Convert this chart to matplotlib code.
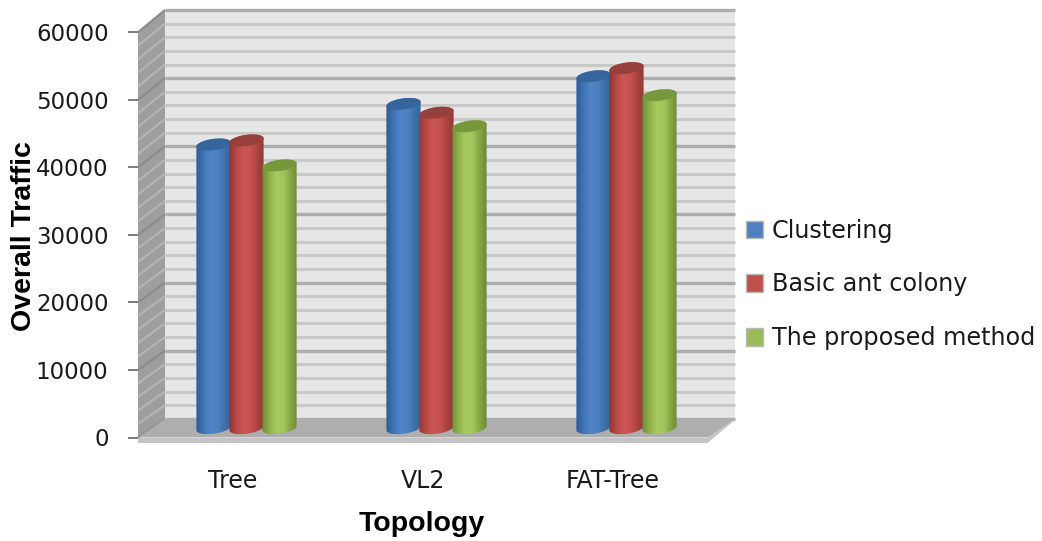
import numpy as np
import matplotlib.pyplot as plt
from matplotlib.colors import LinearSegmentedColormap
from matplotlib.patches import Polygon, Patch

topologies = ['Tree', 'VL2', 'FAT-Tree']
clustering = [42000, 48000, 52100]
ant_colony = [42600, 46700, 53300]
proposed = [38900, 44700, 49300]
series_names = ['Clustering', 'Basic ant colony', 'The proposed method']
y_ticks = [0, 10000, 20000, 30000, 40000, 50000, 60000]
minor_step = 2000

W, H = 1042, 541
left, right, bottom, top = 138, 708, 437.5, 32.3

fig = plt.figure(figsize=(W / 100, H / 100), dpi=100)
ax = fig.add_axes([left / W, 1 - bottom / H, (right - left) / W, (bottom - top) / H])

# size of one pixel in data units, used for the oblique depth
px_x = 3 / (right - left)
px_y = 60000 / (bottom - top)
depth_x = 27 * px_x
depth_lo = 18.7 * px_y
depth_hi = 22.3 * px_y


def back_y(v):
    return v + depth_lo + (depth_hi - depth_lo) * v / 60000


# walls and floor
ax.add_patch(Polygon([(depth_x, back_y(0)), (3 + depth_x, back_y(0)), (3 + depth_x, back_y(60000)),
                      (depth_x, back_y(60000))], fc='#e6e6e6', ec='none', zorder=1, clip_on=False))
ax.add_patch(Polygon([(0, 0), (depth_x, back_y(0)), (depth_x, back_y(60000)), (0, 60000)],
                     fc='#9e9e9e', ec='none', zorder=1, clip_on=False))

for v in range(0, 60001, minor_step):
    major = v % 10000 == 0
    ax.plot([depth_x, 3 + depth_x], [back_y(v), back_y(v)], color='#adadad' if major else '#c8c8c8',
            lw=2.4 if major else 2.2, zorder=2, clip_on=False, solid_capstyle='butt')
    ax.plot([0, depth_x], [v, back_y(v)], color='#8c8c8c' if major else '#b4b4b4',
            lw=1.6, zorder=2, clip_on=False, solid_capstyle='butt')

ax.add_patch(Polygon([(0, -5 * px_y), (3, -5 * px_y), (3, 0), (0, 0)], fc='#c4c4c4', ec='none', zorder=3, clip_on=False))
ax.add_patch(Polygon([(3, -5 * px_y), (3 + depth_x, back_y(0) - 1 * px_y), (3 + depth_x, back_y(0)), (3, 0)],
                     fc='#c4c4c4', ec='none', zorder=3, clip_on=False))
ax.add_patch(Polygon([(0, 0), (depth_x, back_y(0)), (3 + depth_x, back_y(0)), (3, 0)],
                     fc='#aeaeae', ec='none', zorder=3, clip_on=False))

# cylinders: shaded image clipped to the outline, then a darker cap
shades = {
    0: (['#2d5c92', '#3f74b2', '#4f85c8', '#4c82c2', '#3f70aa', '#33639a'], '#35659b'),
    1: (['#8c3431', '#b64845', '#cc5653', '#c6514e', '#aa4340', '#8f3835'], '#96403d'),
    2: (['#6c8c34', '#8fb04c', '#a8ca60', '#a4c65c', '#86a645', '#6a8a32'], '#76973c'),
}
radius = 16
shear = 6
cap_h = 6
t = np.linspace(0, 2 * np.pi, 121)
ex = (radius * np.cos(t) + shear * np.sin(t)) * px_x
ey = cap_h * np.sin(t) * px_y
i_min, i_max = np.argmin(ex), np.argmax(ex)
if i_min < i_max:
    upper = np.r_[i_max:len(t), 1:i_min + 1]
else:
    upper = np.arange(i_max, i_min + 1)
lower = np.r_[i_min:len(t), 1:i_max + 1]

for s, values in enumerate([clustering, ant_colony, proposed]):
    cmap = LinearSegmentedColormap.from_list('cyl%d' % s, shades[s][0])
    for c, v in enumerate(values):
        cx = c + 0.5 + depth_x / 2 + (s - 1) * 33 * px_x
        base = back_y(0) / 2
        cy = base + v
        body = np.r_[np.c_[cx + ex[upper], cy + ey[upper]],
                     np.c_[cx + ex[lower], base + ey[lower]]]
        z = 4 + s * 0.1
        im = ax.imshow(np.linspace(0, 1, 64).reshape(1, -1), cmap=cmap, aspect='auto', zorder=z,
                       extent=[cx - 18 * px_x, cx + 18 * px_x, base - 8 * px_y, cy + 8 * px_y], clip_on=True)
        outline = Polygon(body, closed=True, transform=ax.transData)
        im.set_clip_path(outline)
        ax.add_patch(Polygon(np.c_[cx + ex, cy + ey], fc=shades[s][1], ec='none', zorder=z + 0.01, clip_on=False))

ax.set_xlim(0, 3)
ax.set_ylim(0, 60000)
for sp in ax.spines.values():
    sp.set_visible(False)
ax.patch.set_visible(False)

ax.set_yticks(y_ticks)
ax.set_xticks([0.5, 1.5, 2.5])
ax.set_xticklabels(topologies)
ax.tick_params(axis='y', length=7.2, width=1.2, color='#666666', pad=14, labelsize=16.5)
ax.tick_params(axis='x', length=0, pad=23, labelsize=17)
for lab in ax.get_xticklabels():
    lab.set_color('#1a1a1a')
for lab in ax.get_yticklabels():
    lab.set_color('#1a1a1a')

ax.set_xlabel('Topology', fontsize=20.5, fontweight='bold', family='Liberation Sans')
ax.xaxis.set_label_coords((422 - left) / (right - left), -(524 - bottom) / (bottom - top), transform=ax.transAxes)
ax.xaxis.label.set_va('center')
ax.set_ylabel('Overall Traffic', fontsize=20.5, fontweight='bold', family='Liberation Sans')
ax.yaxis.set_label_coords((24 - left) / (right - left), (bottom - 236) / (bottom - top), transform=ax.transAxes)
ax.yaxis.label.set_va('center')

handles = [Patch(fc=c, ec='#b8b8b8', lw=1) for c in ['#4f81bd', '#c0504d', '#9bbb59']]
fig.legend(handles, series_names, loc='center left', bbox_to_anchor=(746 / W, 1 - 284.5 / H), frameon=False,
           fontsize=17.2, labelspacing=1.25, handlelength=0.72, handleheight=0.75, handletextpad=0.35,
           borderpad=0, borderaxespad=0, labelcolor='#1a1a1a')

fig.savefig('out.png', dpi=100)
